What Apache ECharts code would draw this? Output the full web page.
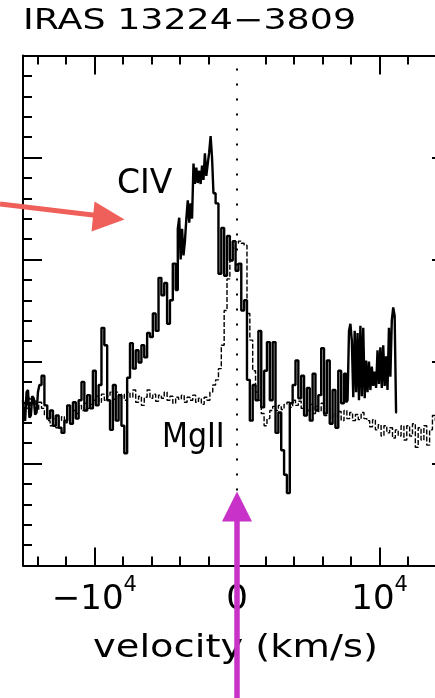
<!DOCTYPE html>
<html>
<head>
<meta charset="utf-8">
<script src="https://cdn.jsdelivr.net/npm/echarts@6/dist/echarts.min.js"></script>
<style>
  html, body { margin: 0; padding: 0; background: #fff; }
  #chart { width: 435px; height: 698px; }
</style>
</head>
<body>
<div id="chart"></div>
<script>
// C IV spectrum, velocity in km/s, flux in arbitrary units
const civVelocity = [
  -15000, -14900, -14800, -14700, -14600, -14500, -14400, -14300, -14200, -14100,
  -14000, -13900, -13800,
  -13600, -13400, -13200, -13000, -12800, -12600, -12400, -12200, -12000, -11800,
  -11600, -11400, -11200, -11000, -10800, -10600, -10400, -10200, -10000, -9800,
  -9600, -9400, -9200, -9000, -8800, -8600, -8400, -8200, -8000, -7800,
  -7600, -7400, -7200, -7000, -6800, -6600, -6400, -6200, -6000, -5800,
  -5600, -5400, -5200, -5000, -4800, -4600, -4400,
  -4200, -4100, -4000, -3900, -3800, -3700, -3600, -3500, -3400, -3300,
  -3200, -3100, -3000, -2900, -2800, -2700, -2600, -2500, -2400, -2300,
  -2200, -2100, -2000, -1900, -1800, -1700, -1600,
  -1400, -1200, -1000, -800, -600, -400, -200, 0, 200, 400,
  600, 800, 1000, 1200, 1400, 1600, 1800, 2000, 2200, 2400,
  2600, 2800, 3000, 3200, 3400, 3600, 3800, 4000, 4200, 4400,
  4600, 4800, 5000, 5200, 5400, 5600, 5800, 6000, 6200, 6400,
  6600, 6800, 7000, 7200, 7400,
  7600, 7700, 7800, 7900, 8000, 8100, 8200, 8300, 8400, 8500,
  8600, 8700, 8800, 8900, 9000, 9100, 9200, 9300, 9400, 9500,
  9600, 9700, 9800, 9900, 10000, 10100, 10200, 10300, 10400, 10500,
  10600, 10700, 10800, 10900, 11000, 11100, 11200
];
const civFlux = [
  1.62, 1.45, 1.42, 1.70, 1.72, 1.45, 1.47, 1.66, 1.64, 1.48,
  1.50, 1.70, 1.77,
  1.86, 1.57, 1.44, 1.52, 1.37, 1.47, 1.35, 1.30, 1.42, 1.57,
  1.39, 1.60, 1.44, 1.62, 1.80, 1.52, 1.67, 1.54, 1.91, 1.57,
  1.77, 2.33, 2.16, 1.62, 1.33, 1.77, 1.42, 1.67, 1.37, 1.10,
  1.84, 2.18, 1.93, 2.11, 1.99, 2.16, 2.04, 2.28, 2.24, 2.47,
  2.30, 2.82, 2.65, 2.77, 2.37, 2.60, 2.96,
  2.70, 3.30, 3.41, 3.00, 3.30, 3.04, 3.18, 3.40, 3.58, 3.36,
  3.55, 3.40, 3.94, 3.74, 3.90, 3.75, 3.87, 3.74, 3.92, 3.78,
  4.04, 3.82, 3.94, 4.05, 4.21, 4.00, 3.65,
  3.55, 2.86, 3.31, 2.84, 3.23, 2.99, 3.18, 2.89, 2.96, 2.50,
  2.60, 1.82, 1.42, 1.77, 1.62, 2.30, 1.55, 1.91, 2.19, 1.62,
  2.19, 1.30, 1.50, 1.13, 0.89, 0.71, 1.59, 1.77, 2.01, 1.64,
  1.86, 1.47, 1.74, 1.42, 1.88, 1.52, 1.67, 2.13, 1.49, 2.01,
  1.39, 1.72, 1.35, 1.91, 1.59,
  1.88, 1.60, 1.62, 2.30, 2.37, 2.20, 1.65, 2.30, 1.70, 2.28,
  1.62, 2.35, 1.66, 2.33, 1.64, 2.01, 1.70, 2.00, 1.72, 1.95,
  1.76, 1.90, 1.74, 2.11, 1.78, 2.14, 1.74, 2.16, 1.76, 2.05,
  1.72, 2.33, 1.85, 2.40, 2.53, 2.45, 1.50
];

// Mg II spectrum on the same velocity scale
const mgVelocity = [
  -15000, -14800, -14600, -14400, -14200, -14000, -13800, -13600, -13400, -13200,
  -13000, -12800, -12600, -12400, -12200, -12000, -11800, -11600, -11400, -11200,
  -11000, -10800, -10600, -10400, -10200, -10000, -9800, -9600, -9400, -9200,
  -9000, -8800, -8600, -8400, -8200, -8000, -7800, -7600, -7400, -7200,
  -7000, -6800, -6600, -6400, -6200, -6000, -5800, -5600, -5400, -5200,
  -5000, -4800, -4600, -4400, -4200, -4000, -3800, -3600, -3400, -3200,
  -3000, -2800, -2600, -2400, -2200, -2000, -1800, -1600, -1400, -1200,
  -1000, -800, -600, -400, -200, 0, 200, 400, 600, 800,
  1000, 1200, 1400, 1600, 1800, 2000, 2200, 2400, 2600, 2800,
  3000, 3200, 3400, 3600, 3800, 4000, 4200, 4400, 4600, 4800,
  5000, 5200, 5400, 5600, 5800, 6000, 6200, 6400, 6600, 6800,
  7000, 7200, 7400, 7600, 7800, 8000, 8200, 8400, 8600, 8800,
  9000, 9200, 9400, 9600, 9800, 10000, 10200, 10400, 10600, 10800,
  11000, 11200, 11400, 11600, 11800, 12000, 12200, 12400, 12600, 12800,
  13000, 13200, 13400, 13600, 13800, 14000
];
const mgFlux = [
  1.62, 1.54, 1.64, 1.57, 1.62, 1.52, 1.60, 1.54, 1.47, 1.42,
  1.37, 1.44, 1.35, 1.42, 1.46, 1.40, 1.49, 1.44, 1.52, 1.49,
  1.57, 1.52, 1.59, 1.54, 1.58, 1.62, 1.66, 1.60, 1.68, 1.62,
  1.66, 1.70, 1.63, 1.70, 1.64, 1.68, 1.62, 1.70, 1.65, 1.72,
  1.60, 1.66, 1.57, 1.65, 1.72, 1.64, 1.68, 1.61, 1.67, 1.64,
  1.70, 1.62, 1.66, 1.59, 1.65, 1.63, 1.67, 1.60, 1.65, 1.62,
  1.67, 1.60, 1.64, 1.58, 1.65, 1.62, 1.70, 1.77, 1.82, 1.93,
  2.16, 2.50, 2.81, 2.99, 3.11, 3.16, 3.18, 3.16, 3.14, 2.47,
  2.21, 1.91, 1.70, 1.62, 1.49, 1.37, 1.44, 1.52, 1.56, 1.52,
  1.57, 1.53, 1.58, 1.60, 1.55, 1.62, 1.57, 1.61, 1.54, 1.59,
  1.52, 1.58, 1.49, 1.56, 1.51, 1.59, 1.47, 1.54, 1.44, 1.49,
  1.38, 1.51, 1.42, 1.52, 1.44, 1.50, 1.42, 1.48, 1.43, 1.50,
  1.44, 1.42, 1.36, 1.43, 1.33, 1.38, 1.27, 1.37, 1.30, 1.35,
  1.25, 1.33, 1.27, 1.37, 1.23, 1.37, 1.27, 1.39, 1.16, 1.35,
  1.23, 1.37, 1.18, 1.33, 1.47, 1.42
];

// Velocity axis ticks and labels
const xMajorTicks = [-10000, 0, 10000];
const xTopMajorTicks = [-10000, 10000];
const xMinorTicks = [-14000, -12000, -8000, -6000, -4000, -2000, 2000, 4000, 6000, 8000, 12000, 14000];
const xTickBase = ['\u221210', '0', '10'];
const xTickExp = ['4', '', '4'];

const titleText = 'IRAS 13224\u22123809';
const xAxisTitle = 'velocity (km/s)';
const civName = 'CIV';
const mgName = 'MgII';

const FONT = 'DejaVu Sans';
const INK = '#000';

const chart = echarts.init(document.getElementById('chart'), null, { renderer: 'canvas' });

function velocityAxis(position, ticks, len, withLine, withLabels) {
  return {
    type: 'value',
    position: position,
    min: -15000,
    max: 15000,
    axisLine: { show: withLine, onZero: false, lineStyle: { color: INK, width: 2 } },
    axisTick: { show: true, inside: true, length: len, customValues: ticks,
                lineStyle: { color: INK, width: 2 } },
    axisLabel: withLabels ? {
      show: true,
      customValues: xMajorTicks,
      margin: 10,
      formatter: function (value) {
        const i = xMajorTicks.indexOf(value);
        if (i < 0) return '';
        return '{b|' + xTickBase[i] + '}' + (xTickExp[i] ? '{s|' + xTickExp[i] + '}' : '');
      },
      rich: {
        b: { fontFamily: FONT, fontSize: 34, color: INK, lineHeight: 50 },
        s: { fontFamily: FONT, fontSize: 21, color: INK, lineHeight: 20, verticalAlign: 'top' }
      }
    } : { show: false },
    splitLine: { show: false },
    minorTick: { show: false },
    minorSplitLine: { show: false }
  };
}

function fluxAxis(position) {
  return {
    type: 'value',
    position: position,
    min: 0,
    max: 5,
    interval: 1,
    axisLine: { show: true, onZero: false, lineStyle: { color: INK, width: 2 } },
    axisTick: { show: true, inside: true, length: 19, lineStyle: { color: INK, width: 2 } },
    minorTick: { show: true, splitNumber: 5, length: 9, lineStyle: { color: INK, width: 2 } },
    axisLabel: { show: false },
    splitLine: { show: false },
    minorSplitLine: { show: false }
  };
}

const option = {
  animation: false,
  backgroundColor: '#fff',
  // the plot frame runs past the right edge of the page
  grid: { left: 23, top: 55.5, width: 428, height: 510, containLabel: false, outerBoundsMode: 'none' },
  xAxis: [
    velocityAxis('bottom', xMajorTicks, 18, true, true),
    velocityAxis('bottom', xMinorTicks, 9, false, false),
    velocityAxis('top', xTopMajorTicks, 19, true, false),
    velocityAxis('top', xMinorTicks, 9, false, false)
  ],
  yAxis: [fluxAxis('left'), fluxAxis('right')],
  series: [
    {
      name: mgName,
      type: 'line',
      xAxisIndex: 0,
      yAxisIndex: 0,
      step: 'middle',
      symbol: 'none',
      data: mgVelocity.map((v, i) => [v, mgFlux[i]]),
      lineStyle: { color: INK, width: 1.4, type: [5, 2] },
      z: 3
    },
    {
      name: civName,
      type: 'line',
      xAxisIndex: 0,
      yAxisIndex: 0,
      step: 'middle',
      symbol: 'none',
      data: civVelocity.map((v, i) => [v, civFlux[i]]),
      lineStyle: { color: INK, width: 2.4 },
      z: 4,
      markLine: {
        silent: true,
        symbol: ['none', 'none'],
        label: { show: false },
        lineStyle: { color: INK, width: 2, type: [2, 13], cap: 'butt' },
        data: [{ xAxis: 0 }]
      }
    }
  ]
};
chart.setOption(option);

// Labels and annotation arrows
const zeroX = chart.convertToPixel({ xAxisIndex: 0 }, 0);
chart.setOption({
  graphic: [
    {
      type: 'text', x: 23, y: 22, scaleX: 1.3, originX: 0, originY: 0, z: 10,
      style: { text: titleText, font: 'normal 28px "DejaVu Sans"', fill: INK,
               textAlign: 'left', textVerticalAlign: 'middle', align: 'left', verticalAlign: 'middle' }
    },
    {
      type: 'text', x: 235.5, y: 649, scaleX: 1.2, originX: 0, originY: 0, z: 10,
      style: { text: xAxisTitle, font: 'normal 32px "DejaVu Sans"', fill: INK,
               textAlign: 'center', textVerticalAlign: 'middle', align: 'center', verticalAlign: 'middle' }
    },
    {
      type: 'text', x: 117, y: 184.6, z: 10,
      style: { text: civName, font: 'normal 33px "DejaVu Sans"', fill: INK,
               textAlign: 'left', textVerticalAlign: 'middle', align: 'left', verticalAlign: 'middle' }
    },
    {
      type: 'text', x: 162, y: 438.6, scaleX: 0.91, originX: 0, originY: 0, z: 10,
      style: { text: mgName, font: 'normal 33px "DejaVu Sans"', fill: INK,
               textAlign: 'left', textVerticalAlign: 'middle', align: 'left', verticalAlign: 'middle' }
    },
    {
      type: 'line', z: 20,
      shape: { x1: 0, y1: 204, x2: 97, y2: 215.5 },
      style: { stroke: '#F0605A', lineWidth: 5 }
    },
    {
      type: 'polygon', z: 20,
      shape: { points: [[124.5, 219.5], [94.5, 201.5], [91.5, 231.5]] },
      style: { fill: '#F0605A' }
    },
    {
      type: 'line', z: 20,
      shape: { x1: zeroX, y1: 698, x2: zeroX, y2: 518 },
      style: { stroke: '#C832C8', lineWidth: 5.5 }
    },
    {
      type: 'polygon', z: 20,
      shape: { points: [[zeroX, 491.5], [zeroX - 15, 521.5], [zeroX + 15, 521.5]] },
      style: { fill: '#C832C8' }
    }
  ]
});
</script>
</body>
</html>
